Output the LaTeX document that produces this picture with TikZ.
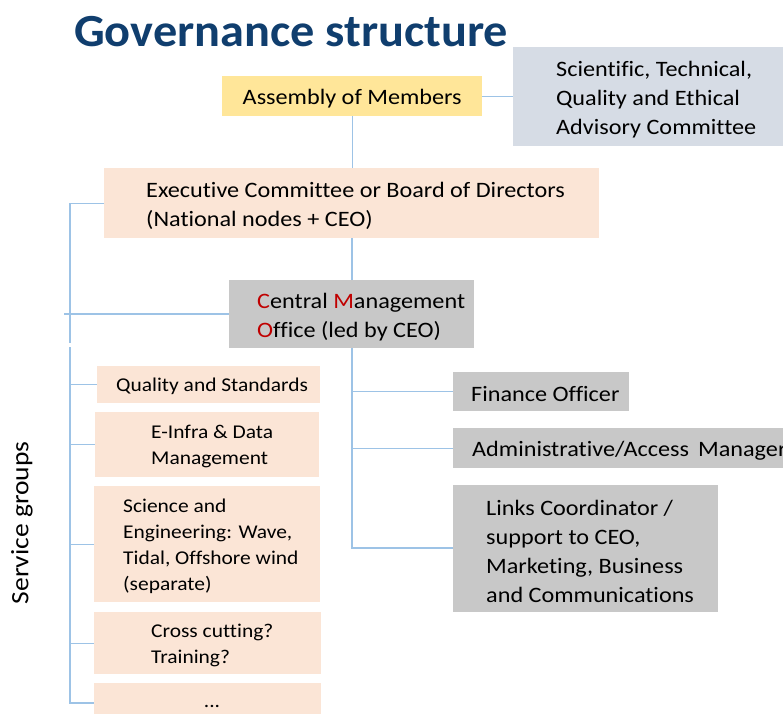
\documentclass[tikz,border=0pt]{standalone}
\usepackage{fontspec}
\setmainfont{Carlito}[FakeStretch=1.1, Ligatures=CommonOff]
\newfontfamily\titlefont{Carlito}[FakeStretch=1.05]
\definecolor{ttl}{RGB}{16,62,110}
\definecolor{yel}{RGB}{255,230,153}
\definecolor{peach}{RGB}{251,229,214}
\definecolor{bgray}{RGB}{214,220,229}
\definecolor{gbox}{RGB}{200,200,200}
\definecolor{lnk}{RGB}{157,195,230}
\definecolor{redc}{RGB}{192,0,0}
\begin{document}
\begin{tikzpicture}[x=1pt,y=-1pt,
  box/.style={rectangle, inner sep=0pt, anchor=north west, draw=none},
  txt/.style={anchor=west, inner sep=0pt, align=left, yshift=-2.5pt, font=\fontsize{22}{29}\selectfont},
  stxt/.style={anchor=west, inner sep=0pt, align=left, yshift=-2pt, font=\fontsize{19.5}{26}\selectfont},
  conn/.style={draw=lnk, line width=1.2pt}]
\useasboundingbox (0,0) rectangle (783,713);
\clip (0,0) rectangle (783,713);
% title
\node[anchor=west, inner sep=0pt, text=ttl, font=\titlefont\fontsize{46}{50}\selectfont\bfseries] (title) at (74,32) {Governance structure};
% top
\node[box, fill=yel, minimum width=260pt, minimum height=40pt] (asm) at (222,76) {};
\node[inner sep=0pt, yshift=-2pt, font=\fontsize{22}{29}\selectfont] (asmT) at (asm.center) {Assembly of Members};
\node[box, fill=bgray, minimum width=300pt, minimum height=99pt] (adv) at (513,47) {};
\node[txt] (advT) at ([xshift=43pt]adv.west) {Scientific, Technical,\\Quality and Ethical\\Advisory Committee};
\node[box, fill=peach, minimum width=495pt, minimum height=70pt] (exec) at (104,168) {};
\node[txt] (execT) at ([xshift=42pt]exec.west) {Executive Committee or Board of Directors\\(National nodes + CEO)};
\node[box, fill=gbox, minimum width=245pt, minimum height=68pt] (cmo) at (229,280) {};
\node[txt] (cmoT) at ([xshift=28pt]cmo.west) {\textcolor{redc}{C}entral \textcolor{redc}{M}anagement\\\textcolor{redc}{O}ffice (led by CEO)};
% right column
\node[box, fill=gbox, minimum width=176pt, minimum height=39pt] (fin) at (453,372) {};
\node[txt] (finT) at ([xshift=18pt]fin.west) {Finance Officer};
\node[box, fill=gbox, minimum width=360pt, minimum height=40pt] (adm) at (453,428) {};
\node[txt] (admT) at ([xshift=19pt]adm.west) {Administrative/Access\, Manager};
\node[box, fill=gbox, minimum width=265pt, minimum height=127pt] (lnk) at (453,485) {};
\node[txt] (lnkT) at ([xshift=33pt]lnk.west) {Links Coordinator /\\support to CEO,\\Marketing, Business\\and Communications};
% service groups
\node[box, fill=peach, minimum width=223pt, minimum height=37pt] (qs) at (97,366) {};
\node[stxt] (qsT) at ([xshift=19pt]qs.west) {Quality and Standards};
\node[box, fill=peach, minimum width=224pt, minimum height=65pt] (ei) at (95,412) {};
\node[stxt] (eiT) at ([xshift=56pt]ei.west) {E-Infra \& Data\\Management};
\node[box, fill=peach, minimum width=226pt, minimum height=116pt] (sci) at (94,486) {};
\node[stxt] (sciT) at ([xshift=29pt]sci.west) {Science and\\Engineering: Wave,\\Tidal, Offshore wind\\(separate)};
\node[box, fill=peach, minimum width=227pt, minimum height=62pt] (cc) at (94,612) {};
\node[stxt] (ccT) at ([xshift=57pt]cc.west) {Cross cutting?\\Training?};
\node[box, fill=peach, minimum width=227pt, minimum height=40pt] (dots) at (94,683) {};
\node[inner sep=0pt, font=\fontsize{19.5}{26}\selectfont] (dotsT) at (212,706) {...};
\node[rotate=90, inner sep=0pt, font=\fontsize{25}{30}\selectfont] (sg) at (22,523) {Service groups};
% connectors
\coordinate (v1) at (70,343);
\coordinate (h0) at (64,314);
\coordinate (v2) at (70,347);
\coordinate (v3) at (70,703);
\coordinate (r0) at (352,548);
\draw[conn] (asm.east) -- (asm.east -| adv.west);
\draw[conn] (asm.south) -- (asm.south |- exec.north);
\draw[conn] (352,238) -- (352,280);
\draw[conn] (exec.west) -| (v1);
\draw[conn] (h0) -- (h0 -| cmo.west);
\draw[conn] (v2) -- (v3) -- (v3 -| dots.west);
\draw[conn] (v2 |- qs.west) -- (qs.west);
\draw[conn] (v2 |- ei.west) -- (ei.west);
\draw[conn] (v2 |- sci.west) -- (sci.west);
\draw[conn] (v2 |- cc.west) -- (cc.west);
\draw[conn] (352,348) -- (r0) -- (r0 -| lnk.west);
\draw[conn] (fin.west -| r0) -- (fin.west);
\draw[conn] (adm.west -| r0) -- (adm.west);
\end{tikzpicture}
\end{document}
